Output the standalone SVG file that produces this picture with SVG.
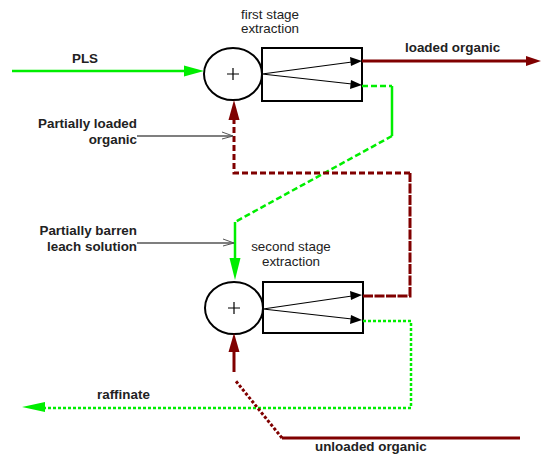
<svg xmlns="http://www.w3.org/2000/svg" width="541" height="458" viewBox="0 0 541 458">
<style>
text{font-family:"Liberation Sans",Arial,sans-serif;font-size:13.4px;fill:#222}
.b{font-weight:bold}
.n{font-weight:normal}
.mix{fill:#fff;stroke:#000;stroke-width:2}
.box{fill:#fff;stroke:#000;stroke-width:2}
.thin{stroke:#000;stroke-width:1.2;fill:none}
.g{stroke:#00ee00;stroke-width:2.5;fill:none}
.m{stroke:#800000;stroke-width:3;fill:none}
.dash{stroke-dasharray:6 3}
.dot{stroke-dasharray:3 2}
.tick{stroke-dasharray:10 1.5}
.gf{fill:#00ee00}
.mf{fill:#800000}
.kf{fill:#000}
.chev{fill:none;stroke:#555;stroke-width:1}
</style>
<g id="stage1">
<ellipse class="mix" cx="233" cy="74" rx="29" ry="26"/>
<path class="thin" d="M227,74 H239 M233,68 V80"/>
<rect class="box" x="262" y="48" width="100" height="53"/>
<path class="thin" d="M262,74 L352,62 M262,74 L352,84"/>
<polygon class="kf" points="362,61 350,57 351,66"/>
<polygon class="kf" points="362,85 351,80 350,89"/>
<text class="n" x="270" y="19" text-anchor="middle">first stage</text>
<text class="n" x="270" y="33" text-anchor="middle">extraction</text>
</g>
<g id="stage2">
<ellipse class="mix" cx="234" cy="308" rx="29" ry="26"/>
<path class="thin" d="M228,308 H240 M234,302 V314"/>
<rect class="box" x="263" y="282" width="100" height="51"/>
<path class="thin" d="M263,309 L352,296 M263,309 L352,319"/>
<polygon class="kf" points="362,295 350,291 351,300"/>
<polygon class="kf" points="362,320 351,315 350,324"/>
<text class="n" x="291" y="251" text-anchor="middle">second stage</text>
<text class="n" x="291" y="266" text-anchor="middle">extraction</text>
</g>
<g id="connectors">
<!-- PLS -->
<path class="g" d="M12,71 H186"/>
<polygon class="gf" points="204,71 184,65.5 184,76.5"/>
<!-- loaded organic -->
<path class="m" d="M362,61 H528"/>
<polygon class="mf" points="541,61 526,56 526,66"/>
<!-- green from stage1 to stage2 -->
<path class="g dash" d="M362,86 H392"/>
<path class="g" d="M392,86 V136"/>
<path class="g dash" d="M392,136 L235,222"/>
<path class="g" d="M235,222 V260"/>
<polygon class="gf" points="235,280 229.5,258 240.5,258"/>
<!-- partially loaded organic: stage2 -> stage1 -->
<path class="m tick" d="M363,296 H410 V173"/>
<path class="m dash" d="M410,173 H234 V118"/>
<polygon class="mf" points="234,100 228.5,120 239.5,120"/>
<!-- raffinate -->
<path class="g dot" d="M363,321 H411 V408 H44"/>
<polygon class="gf" points="22,407 45,402 45,412"/>
<!-- unloaded organic -->
<path class="m" d="M520,438 H282"/>
<path class="m dot" d="M282,438 L235,380"/>
<path class="m" d="M234,372 V350"/>
<polygon class="mf" points="234,333 228.5,352 239.5,352"/>
<!-- callouts -->
<path class="thin" d="M137,136 H233"/>
<path class="chev" d="M222,132 L233,136 L222,139"/>
<path class="thin" d="M137,243 H234"/>
<path class="chev" d="M223,239 L234,243 L223,246"/>
</g>
<g id="labels">
<text class="b" x="72" y="63">PLS</text>
<text class="b" x="405" y="52">loaded organic</text>
<text class="b" x="137" y="128" text-anchor="end">Partially loaded</text>
<text class="b" x="137" y="144" text-anchor="end">organic</text>
<text class="b" x="137" y="235" text-anchor="end">Partially barren</text>
<text class="b" x="137" y="251" text-anchor="end">leach solution</text>
<text class="b" x="97" y="399">raffinate</text>
<text class="b" x="315" y="451">unloaded organic</text>
</g>
</svg>
